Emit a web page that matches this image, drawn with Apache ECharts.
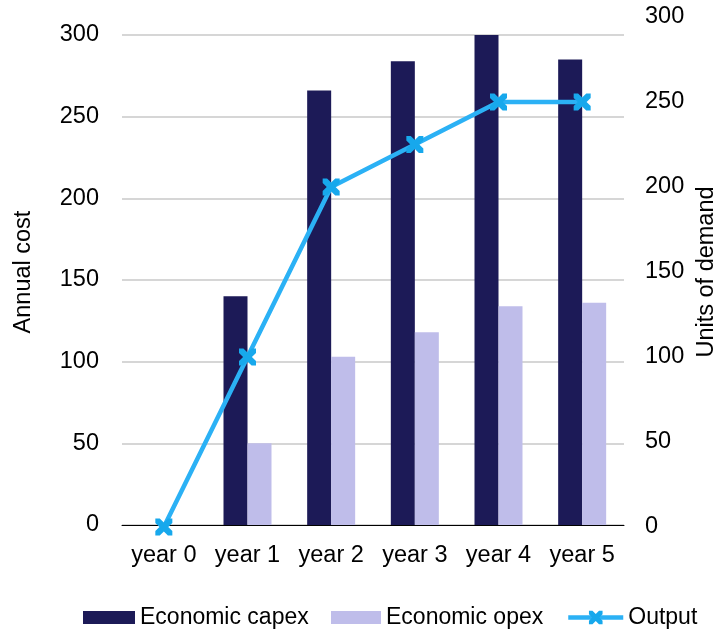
<!DOCTYPE html>
<html><head><meta charset="utf-8">
<script src="https://cdn.jsdelivr.net/npm/echarts@6/dist/echarts.min.js"></script>
<style>html,body{margin:0;padding:0;background:#fff}#c{width:718px;height:632px}</style>
</head><body><div id="c"></div>
<script>
const categories = ['year 0','year 1','year 2','year 3','year 4','year 5'];
const capex = [0, 140, 266, 284, 300, 285];
const opex = [0, 50, 103, 118, 134, 136];
const output = [0, 100, 200, 225, 250, 250];
const leftTicks = {min: 0, max: 300, interval: 50};
const rightTicks = {min: 0, max: 300, interval: 50};

const FONT = '"Liberation Sans", Arial, sans-serif';
const FS = 23.5;
const xSym = 'path://M0,0 L2.6,0 L5,2.4 L7.4,0 L10,0 L10,2.6 L7.6,5 L10,7.4 L10,10 L7.4,10 L5,7.6 L2.6,10 L0,10 L0,7.4 L2.4,5 L0,2.6 Z';

const chart = echarts.init(document.getElementById('c'), null, {renderer: 'canvas'});
const legendBase = {
  orient: 'horizontal', top: 601, itemHeight: 13,
  textStyle: {fontFamily: FONT, fontSize: 23, color: '#000'}, itemGap: 8, selectedMode: false
};
chart.setOption({
  animation: false,
  textStyle: {fontFamily: FONT},
  grid: [
    {left: 122, right: 94, top: 35, bottom: 107},
    {left: 122, right: 94, top: 17, bottom: 105}
  ],
  legend: [
    Object.assign({}, legendBase, {left: 78, itemWidth: 52, data: [{name: 'Economic capex', icon: 'rect'}]}),
    Object.assign({}, legendBase, {left: 326, itemWidth: 50, data: [{name: 'Economic opex', icon: 'rect'}]}),
    Object.assign({}, legendBase, {left: 561, itemWidth: 55, itemHeight: 17,
      itemStyle: {color: '#17a8ec'}, lineStyle: {width: 4.5, color: '#2bb1f5'},
      data: [{name: 'Output'}]})
  ],
  xAxis: [
    {type: 'category', gridIndex: 0, data: categories, boundaryGap: true,
     axisLine: {lineStyle: {color: '#000', width: 1}}, axisTick: {show: false},
     axisLabel: {fontFamily: FONT, fontSize: FS, color: '#000', margin: 19, interval: 0}},
    {type: 'category', gridIndex: 1, data: categories, boundaryGap: true, show: false}
  ],
  yAxis: [
    {type: 'value', gridIndex: 0, min: leftTicks.min, max: leftTicks.max, interval: leftTicks.interval,
     axisLine: {show: false}, axisTick: {show: false},
     axisLabel: {fontFamily: FONT, fontSize: FS, color: '#000', margin: 23},
     splitLine: {lineStyle: {color: '#c8c8c8', width: 1.5}}},
    {type: 'value', gridIndex: 1, position: 'right', min: rightTicks.min, max: rightTicks.max, interval: rightTicks.interval,
     axisLine: {show: false}, axisTick: {show: false},
     axisLabel: {fontFamily: FONT, fontSize: FS, color: '#000', margin: 21},
     splitLine: {show: false}}
  ],
  graphic: [
    {type: 'text', rotation: Math.PI/2, style: {text: 'Annual cost', font: FS + 'px ' + FONT, fill: '#000', align: 'center', verticalAlign: 'middle'}, x: 24, y: 272},
    {type: 'text', rotation: Math.PI/2, style: {text: 'Units of demand', font: FS + 'px ' + FONT, fill: '#000', align: 'center', verticalAlign: 'middle'}, x: 707, y: 272}
  ],
  series: [
    {name: 'Economic capex', type: 'bar', xAxisIndex: 0, yAxisIndex: 0, data: capex,
     barWidth: 24, barGap: '0%', itemStyle: {color: '#1c1a57'}},
    {name: 'Economic opex', type: 'bar', xAxisIndex: 0, yAxisIndex: 0, data: opex,
     barWidth: 24, barGap: '0%', itemStyle: {color: '#bfbdea'}},
    {name: 'Output', type: 'line', xAxisIndex: 1, yAxisIndex: 1, data: output,
     symbol: xSym, symbolSize: 17, z: 5,
     lineStyle: {color: '#2bb1f5', width: 4.5}, itemStyle: {color: '#17a8ec'}}
  ]
});
</script></body></html>
